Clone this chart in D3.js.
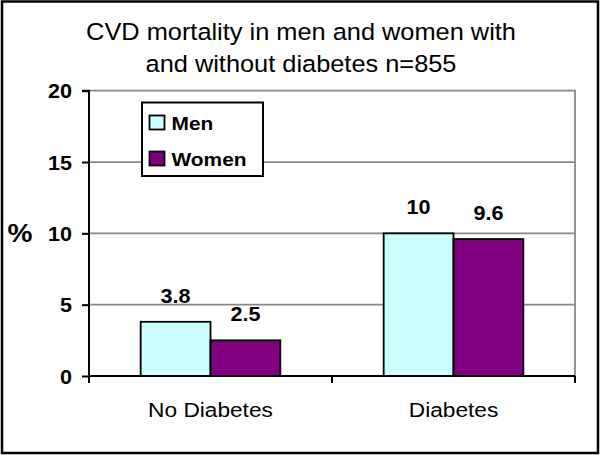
<!DOCTYPE html>
<html><head><meta charset="utf-8">
<script src="https://cdn.jsdelivr.net/npm/d3@7/dist/d3.min.js"></script>
<style>body{margin:0;background:#fff}svg{display:block}text{font-family:"Liberation Sans",Arial,sans-serif}</style>
</head><body>
<svg id="c" width="602" height="455"></svg>
<script>
const titleLines = ["CVD mortality in men and women with", "and without diabetes n=855"];
const categories = ["No Diabetes", "Diabetes"];
const seriesNames = ["Men", "Women"];
const men = [3.8, 10];
const women = [2.5, 9.6];
const yTicks = [0, 5, 10, 15, 20];
const yLabel = "%";
const colors = ["#CCFFFF", "#800080"];

const SX = 1.08; // horizontal stretch of the reference's text
function stretch(sel, s) {
  sel.each(function() {
    const t = d3.select(this);
    const x = +t.attr("x") || 0, y = +t.attr("y") || 0;
    t.attr("x", 0).attr("y", 0).attr("transform", `translate(${x},${y}) scale(${s || SX},1)`);
  });
}

const svg = d3.select("#c");
const m = {left: 89, right: 575, top: 90.7, bottom: 376};

svg.append("rect").attr("x", 2).attr("y", 1.5).attr("width", 596).attr("height", 451.5)
  .attr("fill", "#fff").attr("stroke", "#000").attr("stroke-width", 2.5);

const x0 = d3.scaleBand().domain(categories).range([m.left, m.right]).paddingInner(0).paddingOuter(0);
const x1 = d3.scaleBand().domain(seriesNames).range([0, x0.bandwidth()]).paddingInner(0).paddingOuter(0.74);
const y = d3.scaleLinear().domain([0, 20]).range([m.bottom, m.top]);

// gridlines
svg.append("g").selectAll("line").data(yTicks.filter(d => d > 0)).join("line")
  .attr("x1", m.left).attr("x2", m.right).attr("y1", d => y(d)).attr("y2", d => y(d))
  .attr("stroke", "#888").attr("stroke-width", 1.8);
svg.append("line").attr("x1", m.right).attr("x2", m.right).attr("y1", m.top - 0.9).attr("y2", m.bottom)
  .attr("stroke", "#888").attr("stroke-width", 1.8);

// bars
const data = categories.map((c, i) => ({cat: c, vals: [men[i], women[i]]}));
const g = svg.append("g");
data.forEach(d => {
  d.vals.forEach((v, j) => {
    const xx = x0(d.cat) + x1(seriesNames[j]);
    g.append("rect").attr("x", xx).attr("y", y(v)).attr("width", x1.bandwidth()).attr("height", y(0) - y(v))
      .attr("fill", colors[j]).attr("stroke", "#000").attr("stroke-width", 1.8);
    g.append("text").attr("class", "vl").attr("x", xx + x1.bandwidth() / 2).attr("y", y(v) - 19)
      .attr("text-anchor", "middle").attr("font-weight", "bold").attr("font-size", 20)
      .text(String(v));
  });
});
stretch(g.selectAll("text.vl"));

// y axis
const ya = d3.axisLeft(y).tickValues(yTicks).tickSize(7).tickPadding(10).tickFormat(d3.format("d"));
const yg = svg.append("g").attr("transform", `translate(${m.left},0)`).call(ya);
yg.select(".domain").attr("stroke", "#000").attr("stroke-width", 2).attr("d", `M-7,${m.top}H0V${m.bottom}`);
yg.selectAll(".tick line").attr("stroke", "#000").attr("stroke-width", 2);
yg.selectAll(".tick text").attr("font-size", 20).attr("font-weight", "bold").attr("fill", "#000")
  .attr("font-family", "Liberation Sans, Arial, sans-serif").attr("dy", "0.36em");
stretch(yg.selectAll(".tick text"));

// x axis
const xa = d3.axisBottom(x0).tickSize(0).tickPadding(0);
const xg = svg.append("g").attr("transform", `translate(0,${m.bottom})`).call(xa);
xg.select(".domain").attr("stroke", "#000").attr("stroke-width", 2).attr("d", `M${m.left},0H${m.right}`);
xg.selectAll(".tick text").attr("font-size", 21).attr("fill", "#000").attr("dy", 0).attr("y", 40.5)
  .attr("font-family", "Liberation Sans, Arial, sans-serif");
stretch(xg.selectAll(".tick text"));
const sep = [m.left, ...categories.map(c => x0(c) + x0.bandwidth())];
xg.append("g").selectAll("line").data(sep).join("line")
  .attr("x1", d => d).attr("x2", d => d).attr("y1", 0).attr("y2", 7)
  .attr("stroke", "#000").attr("stroke-width", 2);

// y label
const yl = svg.append("text").attr("x", 20).attr("y", 241.5).attr("text-anchor", "middle")
  .attr("font-size", 26).attr("font-weight", "bold").text(yLabel);
stretch(yl);

// title
const tt = svg.append("g").selectAll("text").data(titleLines).join("text")
  .attr("x", 301).attr("y", (d, i) => 40 + i * 32).attr("text-anchor", "middle")
  .attr("font-size", 23.5).text(d => d);
stretch(tt);

// legend
const lg = svg.append("g");
lg.append("rect").attr("x", 142).attr("y", 102.5).attr("width", 121).attr("height", 73.5)
  .attr("fill", "#fff").attr("stroke", "#000").attr("stroke-width", 2);
seriesNames.forEach((s, i) => {
  lg.append("rect").attr("x", 149.5).attr("y", 115.5 + i * 36).attr("width", 15).attr("height", 14)
    .attr("fill", colors[i]).attr("stroke", "#000").attr("stroke-width", 1.8);
  lg.append("text").attr("class", "lt").attr("x", 171.5).attr("y", 129.5 + i * 36).attr("font-size", 19)
    .attr("font-weight", "bold").text(s);
});
stretch(lg.selectAll("text.lt"), 1.1);
</script>
</body></html>
